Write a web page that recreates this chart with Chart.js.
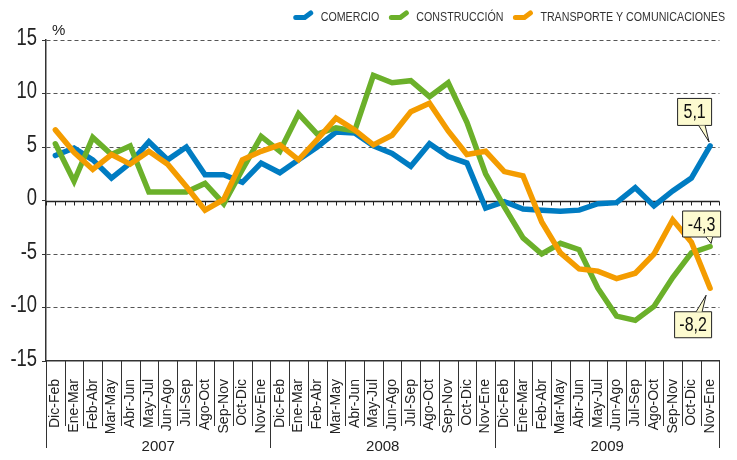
<!DOCTYPE html>
<html>
<head>
<meta charset="utf-8">
<script src="https://cdn.jsdelivr.net/npm/chart.js@4.4.1/dist/chart.umd.min.js"></script>
<style>
  html, body { margin: 0; padding: 0; background: #fff; }
  #wrap { width: 737px; height: 460px; position: relative; }
</style>
</head>
<body>
<div id="wrap"><canvas id="chart"></canvas></div>
<script>
const years = ["2007", "2008", "2009"];
const periods = ["Dic-Feb", "Ene-Mar", "Feb-Abr", "Mar-May", "Abr-Jun", "May-Jul",
  "Jun-Ago", "Jul-Sep", "Ago-Oct", "Sep-Nov", "Oct-Dic", "Nov-Ene"];
const labels = years.flatMap(() => periods);

const comercio = [
  4.2, 4.9, 3.8, 2.1, 3.5, 5.5, 3.8, 5.0, 2.4, 2.4, 1.7, 3.5,
  2.6, 3.8, 5.0, 6.4, 6.3, 5.1, 4.4, 3.2, 5.3, 4.1, 3.5, -0.7,
  -0.1, -0.8, -0.9, -1.0, -0.9, -0.3, -0.2, 1.2, -0.5, 0.9, 2.1, 5.1
];
const construccion = [
  5.3, 1.8, 5.9, 4.3, 5.1, 0.8, 0.8, 0.8, 1.6, -0.3, 2.9, 6.0,
  4.6, 8.1, 6.2, 6.8, 6.5, 11.7, 11.0, 11.2, 9.7, 11.0, 7.3, 2.5,
  -0.6, -3.5, -5.0, -4.0, -4.6, -8.2, -10.8, -11.2, -9.9, -7.2, -4.9, -4.3
];
const transporte = [
  6.6, 4.5, 2.9, 4.3, 3.4, 4.6, 3.4, 1.3, -0.9, 0.1, 3.8, 4.6,
  5.2, 3.8, 5.7, 7.7, 6.6, 5.2, 6.1, 8.3, 9.1, 6.5, 4.3, 4.6,
  2.7, 2.3, -2.0, -4.9, -6.4, -6.6, -7.3, -6.8, -5.0, -1.8, -3.9, -8.2
];
const seriesNames = ["COMERCIO", "CONSTRUCCIÓN", "TRANSPORTE Y COMUNICACIONES"];
const seriesColors = ["#007cc2", "#6bb02a", "#f49c00"];

// last-value callouts: series index, text
const callouts = [
  { series: 0, text: "5,1" },
  { series: 1, text: "-4,3" },
  { series: 2, text: "-8,2" }
];

const plain = "'Liberation Sans', Arial, sans-serif";

// no condensed face installed, so squeeze Liberation Sans sideways
function narrowText(ctx, text, x, y, size, sx, align) {
  ctx.save();
  ctx.font = size + "px " + plain;
  ctx.translate(x, y);
  ctx.scale(sx, 1);
  ctx.textAlign = align;
  ctx.textBaseline = "middle";
  ctx.fillText(text, 0, 0);
  ctx.restore();
}

function drawCallout(ctx, box, base, tip, text) {
  ctx.save();
  ctx.beginPath();
  ctx.rect(box.x, box.y, box.w, box.h);
  ctx.fillStyle = "#fdfbd0";
  ctx.fill();
  ctx.lineWidth = 1;
  ctx.strokeStyle = "#222";
  ctx.stroke();
  // pointer
  ctx.beginPath();
  ctx.moveTo(base[0], base[1]);
  ctx.lineTo(tip[0], tip[1]);
  ctx.lineTo(base[2], base[3]);
  ctx.closePath();
  ctx.fill();
  ctx.beginPath();
  ctx.moveTo(base[0], base[1]);
  ctx.lineTo(tip[0], tip[1]);
  ctx.lineTo(base[2], base[3]);
  ctx.stroke();
  ctx.fillStyle = "#111";
  narrowText(ctx, text, box.x + box.w / 2, box.y + box.h / 2 + 1, 20, 0.8, "center");
  ctx.restore();
}

const decor = {
  id: "decor",
  beforeDatasetsDraw(chart) {
    const { ctx, chartArea: a, scales: { y } } = chart;
    const y0 = Math.round(y.getPixelForValue(0)) + 0.5;
    const step = (a.right - a.left) / labels.length;
    ctx.save();
    ctx.strokeStyle = "#222";
    ctx.lineWidth = 1.5;
    ctx.beginPath();
    ctx.moveTo(a.left, y0);
    ctx.lineTo(a.right, y0);
    ctx.stroke();
    ctx.lineWidth = 1;
    ctx.beginPath();
    for (let i = 0; i <= labels.length * 2; i++) {
      const px = Math.round(a.left + i * step / 2) + 0.5;
      ctx.moveTo(px, y0);
      ctx.lineTo(px, y0 + 4);
    }
    ctx.stroke();
    ctx.restore();
  },
  afterDraw(chart) {
    const { ctx, chartArea: a, scales: { y } } = chart;
    const step = (a.right - a.left) / labels.length;
    ctx.save();
    // y tick labels, condensed
    ctx.fillStyle = "#222";
    y.ticks.forEach(t => {
      narrowText(ctx, String(t.value), a.left - 9, y.getPixelForValue(t.value) - 1.5, 23, 0.8, "right");
    });
    // separators under the axis
    ctx.strokeStyle = "#333";
    ctx.lineWidth = 1;
    ctx.beginPath();
    for (let i = 0; i <= labels.length; i++) {
      const px = Math.round(a.left + i * step) + 0.5;
      const len = i % periods.length === 0 ? 87 : 65;
      ctx.moveTo(px, a.bottom);
      ctx.lineTo(px, a.bottom + len);
    }
    ctx.stroke();
    // year labels
    ctx.fillStyle = "#222";
    ctx.font = "15px " + plain;
    ctx.textAlign = "center";
    ctx.textBaseline = "middle";
    years.forEach((yr, k) => {
      const cx = a.left + (k * periods.length + periods.length / 2) * step;
      ctx.fillText(yr, cx, a.bottom + 86);
    });
    // unit
    ctx.textAlign = "left";
    ctx.fillText("%", a.left + 6, a.top - 9);
    // legend, right aligned
    const sx = 0.82;
    ctx.font = "13px " + plain;
    let lx = 725;
    for (let i = seriesNames.length - 1; i >= 0; i--) {
      const tw = ctx.measureText(seriesNames[i]).width * sx;
      lx -= tw;
      ctx.fillStyle = "#333";
      narrowText(ctx, seriesNames[i], lx, 17, 13, sx, "left");
      lx -= 28;
      ctx.strokeStyle = seriesColors[i];
      ctx.lineWidth = 5;
      ctx.lineCap = "round";
      ctx.lineJoin = "round";
      ctx.beginPath();
      ctx.moveTo(lx + 3, 17.5);
      ctx.lineTo(lx + 12, 17.5);
      ctx.lineTo(lx + 18, 13);
      ctx.stroke();
      lx -= 9;
    }
    ctx.restore();
    // callouts on last values
    const last = labels.length - 1;
    callouts.forEach(c => {
      const pt = chart.getDatasetMeta(c.series).data[last];
      const px = pt.x, py = pt.y;
      if (c.series === 0) {
        drawCallout(ctx, { x: px - 32.5, y: py - 47.5, w: 34, h: 27 },
          [px - 11.5, py - 20.5, px - 5, py - 20.5], [px - 1, py - 4], c.text);
      } else if (c.series === 1) {
        drawCallout(ctx, { x: px - 27.5, y: py - 35.5, w: 38, h: 26 },
          [px - 4, py - 9.5, px + 2.5, py - 9.5], [px + 1, py - 3], c.text);
      } else {
        drawCallout(ctx, { x: px - 35.5, y: py + 23.5, w: 37, h: 26 },
          [px - 14, py + 23.5, px - 8, py + 23.5], [px - 4, py + 7], c.text);
      }
    });
  }
};

const datasets = [comercio, construccion, transporte].map((d, i) => ({
  label: seriesNames[i],
  data: d,
  borderColor: seriesColors[i],
  backgroundColor: seriesColors[i],
  borderWidth: 5.5,
  borderJoinStyle: "miter",
  borderCapStyle: "round",
  pointRadius: 0,
  tension: 0,
  order: 2 - i
}));

new Chart(document.getElementById("chart"), {
  type: "line",
  data: { labels, datasets },
  options: {
    responsive: true,
    maintainAspectRatio: false,
    animation: false,
    layout: { padding: { top: 40, right: 7, left: 0, bottom: 0 } },
    plugins: { legend: { display: false }, tooltip: { enabled: false } },
    scales: {
      x: {
        offset: true,
        grid: { display: false, offset: true },
        border: { display: true, color: "#333", width: 1.5 },
        ticks: {
          autoSkip: false,
          minRotation: 90,
          maxRotation: 90,
          padding: 10,
          color: "#222",
          font: { family: plain, size: 14 }
        },
        afterFit: s => { s.height = 99; }
      },
      y: {
        min: -15,
        max: 15,
        ticks: { stepSize: 5, display: false },
        grid: {
          color: c => (c.tick && (c.tick.value === 0 || c.tick.value === -15)) ? "rgba(0,0,0,0)" : "#555",
          tickColor: "#333",
          tickLength: 4,
          lineWidth: 1
        },
        border: { display: true, color: "#333", width: 1.5, dash: [4, 3] },
        afterFit: s => { s.width = 46; }
      }
    }
  },
  plugins: [decor]
});
</script>
</body>
</html>
